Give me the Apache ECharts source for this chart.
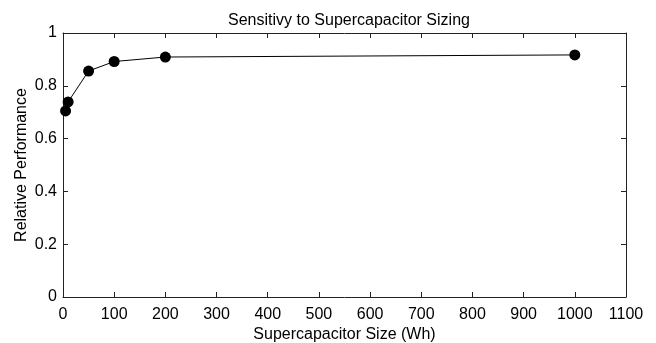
<!DOCTYPE html>
<html><head><meta charset="utf-8">
<script src="https://cdn.jsdelivr.net/npm/echarts@6/dist/echarts.min.js"></script>
<style>html,body{margin:0;padding:0;background:#fff}#c{width:656px;height:343px}</style>
</head><body><div id="c"></div>
<script>
const sizes = [5, 10, 50, 100, 200, 1000];
const performance = [0.705, 0.739, 0.856, 0.892, 0.909, 0.917];
const titleText = 'Sensitivy to Supercapacitor Sizing';
const xName = 'Supercapacitor Size (Wh)';
const yName = 'Relative Performance';

const font = 'Liberation Sans, Arial, Helvetica, sans-serif';
const axisCol = '#222';
const chart = echarts.init(document.getElementById('c'));
const baseX = {
  type: 'value', min: 0, max: 1100, interval: 100,
  axisLine: {show: true, onZero: false, lineStyle: {color: axisCol, width: 1}},
  axisTick: {show: true, inside: true, length: 5, lineStyle: {color: axisCol}},
  splitLine: {show: false}
};
const baseY = {
  type: 'value', min: 0, max: 1, interval: 0.2,
  axisLine: {show: true, onZero: false, lineStyle: {color: axisCol, width: 1}},
  axisTick: {show: true, inside: true, length: 5, lineStyle: {color: axisCol}},
  splitLine: {show: false}
};
chart.setOption({
  animation: false,
  backgroundColor: '#fff',
  title: {text: titleText, left: 344, top: 8, textAlign: 'center',
    textStyle: {fontFamily: font, fontSize: 16, fontWeight: 'normal', color: '#000'}},
  grid: {left: 63, right: 30, top: 33, bottom: 46, containLabel: false, outerBoundsMode: 'none'},
  xAxis: [
    Object.assign({}, baseX, {position: 'bottom', name: xName, nameLocation: 'middle', nameGap: 30,
      nameMoveOverlap: false,
      nameTextStyle: {fontFamily: font, fontSize: 16, color: '#000'},
      axisLabel: {fontFamily: font, fontSize: 16, color: '#000', margin: 10,
        formatter: v => String(v)}}),
    Object.assign({}, baseX, {position: 'top', axisLabel: {show: false}})
  ],
  yAxis: [
    Object.assign({}, baseY, {position: 'left', name: yName, nameLocation: 'middle', nameGap: 33,
      nameMoveOverlap: false,
      nameTextStyle: {fontFamily: font, fontSize: 16, color: '#000'},
      axisLabel: {fontFamily: font, fontSize: 16, color: '#000', margin: 6,
        formatter: v => String(Math.round(v * 10) / 10)}}),
    Object.assign({}, baseY, {position: 'right', axisLabel: {show: false}})
  ],
  series: [{
    type: 'line',
    data: sizes.map((s, i) => [s, performance[i]]),
    symbol: 'circle', symbolSize: 11,
    lineStyle: {color: '#000', width: 1},
    itemStyle: {color: '#000'}
  }]
});
</script></body></html>
